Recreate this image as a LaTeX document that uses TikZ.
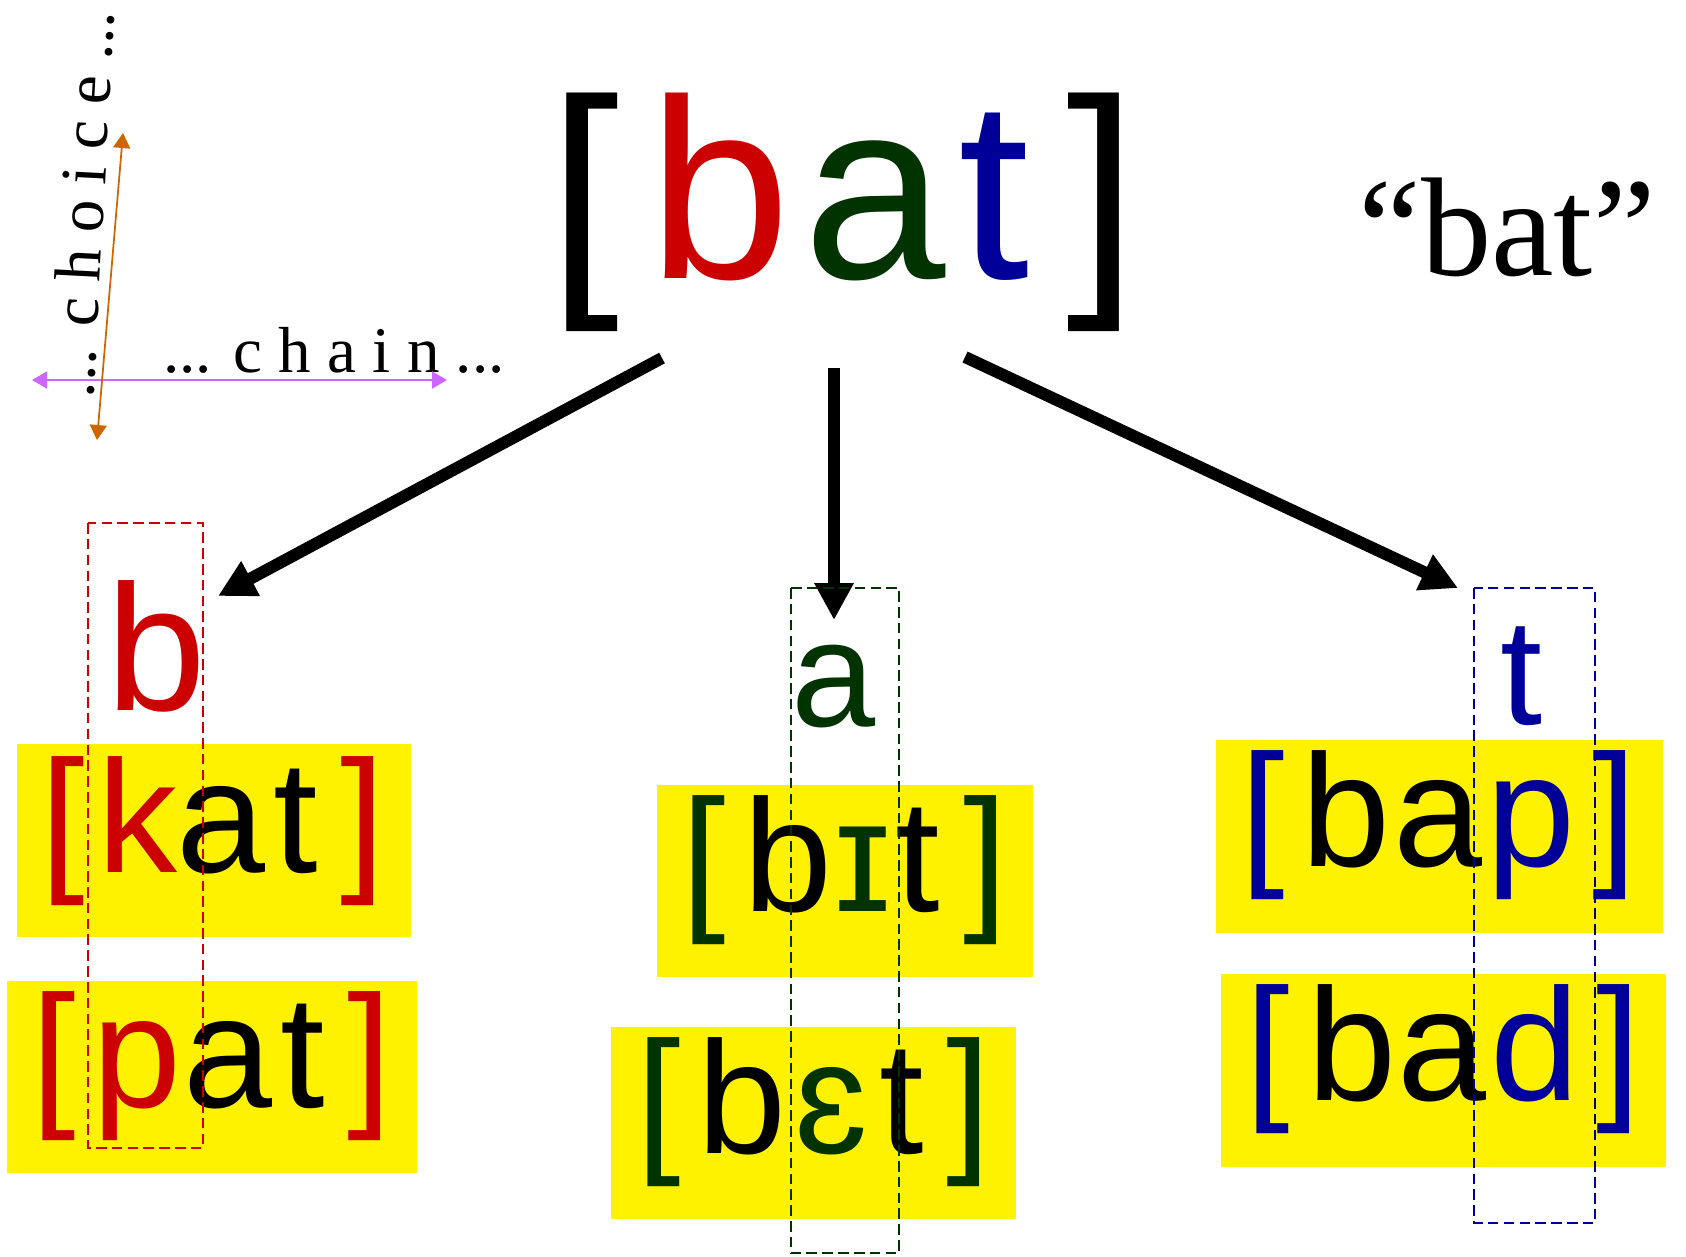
\documentclass[tikz,border=0pt]{standalone}
\usepackage{fontspec}
\usepackage{xcolor}
\usepackage{tikz}
\usetikzlibrary{arrows.meta}
\setmainfont{Liberation Sans}
\newfontfamily\glossfont{Liberation Serif}
\definecolor{segred}{RGB}{204,0,0}
\definecolor{seggreen}{RGB}{0,51,0}
\definecolor{segblue}{RGB}{0,0,153}
\definecolor{chainviolet}{RGB}{204,102,255}
\definecolor{choiceorange}{RGB}{204,102,0}
\tikzset{
  glyph/.style={anchor=base, inner sep=0pt},
  bigglyph/.style={glyph, font=\fontsize{72.8}{80}\selectfont},
  wordglyph/.style={glyph, font=\fontsize{45.5}{50}\selectfont},
  hilite/.style={fill=yellow},
  slotbox/.style={draw=#1, dash pattern=on 3pt off 1.5pt, line width=0.6pt},
  bigarrow/.style={line width=0.12cm, -{Triangle[length=0.37cm,width=0.37cm]}},
  axisarrow/.style={draw=#1, line width=0.5pt,
    {Triangle[length=0.15cm,width=0.17cm]}-{Triangle[length=0.15cm,width=0.17cm]}}
}

\begin{document}
\begin{tikzpicture}[x=0.01cm,y=-0.01cm]
  \useasboundingbox (0,0) rectangle (1686,1256);
  % word
  \node[bigglyph] at(584,278)(batl){[};
  \node[bigglyph,text=segred] at(720,278)(batb){b};
  \node[bigglyph,text=seggreen] at(875,278)(bata){a};
  \node[bigglyph,text=segblue] at(994,278)(batt){t};
  \node[bigglyph] at(1102,278)(batr){]};
  % gloss
  \node[glyph,font=\glossfont\fontsize{40}{44}\selectfont] at(1507,275)(gloss){“bat”};
  % axes
  \node[glyph,font=\glossfont\fontsize{18.5}{20}\selectfont] at(334,372)(chain){... c h a i n ...};
  \node[glyph,rotate=87,font=\glossfont\fontsize{18.5}{20}\selectfont] at(104,205)(choice){... c h o i c e ...};
  \coordinate (chainl) at(32,380);
  \coordinate (chainr) at(447,380);
  \coordinate (choiceb) at(97,440);
  \coordinate (choicet) at(123,133);
  \draw[axisarrow=chainviolet](chainl) -- (chainr);
  \draw[axisarrow=choiceorange](choiceb) -- (choicet);
  % segments
  \node[glyph,text=segred,font=\fontsize{51}{56}\selectfont] at(156,710)(segb){b};
  \node[glyph,text=seggreen,font=\fontsize{43}{48}\selectfont] at(834,726)(sega){a};
  \node[glyph,text=segblue,font=\fontsize{43}{48}\selectfont] at(1521,724)(segt){t};
  % arrows
  \coordinate (fromb) at(662,358);
  \coordinate (froma) at(834,368);
  \coordinate (fromt) at(965,357);
  \coordinate (tob) at(218,596);
  \coordinate (toa) at(834,620);
  \coordinate (tot) at(1458,588);
  \draw[bigarrow](fromb) -- (tob);
  \draw[bigarrow](froma) -- (toa);
  \draw[bigarrow](fromt) -- (tot);
  % highlights
  \fill[hilite](17,744) rectangle (411,937);
  \fill[hilite](7,981) rectangle (417,1173);
  \fill[hilite](657,785) rectangle (1033,977);
  \fill[hilite](611,1027) rectangle (1016,1219);
  \fill[hilite](1216,740) rectangle (1663,933);
  \fill[hilite](1221,974) rectangle (1666,1167);
  % kat
  \node[wordglyph,text=segred] at(63,872)(katl){[};
  \node[wordglyph,text=segred] at(138,872)(katk){k};
  \node[wordglyph] at(221,872)(kata){a};
  \node[wordglyph] at(296,872)(katt){t};
  \node[wordglyph,text=segred] at(363,872)(katr){]};
  % pat
  \node[wordglyph,text=segred] at(54,1107)(patl){[};
  \node[wordglyph,text=segred] at(137,1107)(patp){p};
  \node[wordglyph] at(228,1107)(pata){a};
  \node[wordglyph] at(303,1107)(patt){t};
  \node[wordglyph,text=segred] at(370,1107)(patr){]};
  % bit
  \node[wordglyph,text=seggreen] at(704,911)(bitl){[};
  \node[wordglyph] at(788,911)(bitb){b};
  \node[wordglyph,text=seggreen] at(863,911)(biti){ɪ};
  \node[wordglyph] at(918,911)(bitt){t};
  \node[wordglyph,text=seggreen] at(986,911)(bitr){]};
  % bet
  \node[wordglyph,text=seggreen] at(659,1153)(betl){[};
  \node[wordglyph] at(742,1153)(betb){b};
  \node[wordglyph,text=seggreen] at(831,1153)(bete){ɛ};
  \node[wordglyph] at(902,1153)(bett){t};
  \node[wordglyph,text=seggreen] at(969,1153)(betr){]};
  % bap
  \node[wordglyph,text=segblue] at(1263,866)(bapl){[};
  \node[wordglyph] at(1346,866)(bapb){b};
  \node[wordglyph] at(1438,866)(bapa){a};
  \node[wordglyph,text=segblue] at(1531,866)(bapp){p};
  \node[wordglyph,text=segblue] at(1615,866)(bapr){]};
  % bad
  \node[wordglyph,text=segblue] at(1268,1100)(badl){[};
  \node[wordglyph] at(1352,1100)(badb){b};
  \node[wordglyph] at(1442,1100)(bada){a};
  \node[wordglyph,text=segblue] at(1535,1100)(badd){d};
  \node[wordglyph,text=segblue] at(1619,1100)(badr){]};
  % slots
  \draw[slotbox=segred](88,523) rectangle (203,1148);
  \draw[slotbox=seggreen](791,588) rectangle (899,1253);
  \draw[slotbox=segblue](1474,588) rectangle (1595,1223);
\end{tikzpicture}
\end{document}
